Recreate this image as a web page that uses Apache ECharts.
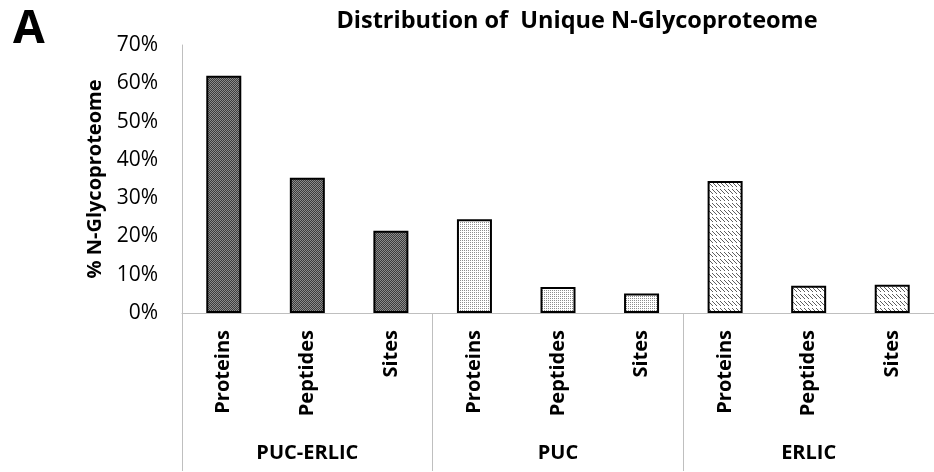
<!DOCTYPE html>
<html>
<head>
<meta charset="utf-8">
<script src="https://cdn.jsdelivr.net/npm/echarts@6/dist/echarts.min.js"></script>
<style>
html, body { margin: 0; padding: 0; background: #fff; }
#chart { width: 934px; height: 472px; }
</style>
</head>
<body>
<div id="chart"></div>
<script>
'use strict';

// data
var groups = ['PUC-ERLIC', 'PUC', 'ERLIC'];
var measures = ['Proteins', 'Peptides', 'Sites'];
var pucErlicValues = [62.0, 35.3, 21.5];
var pucValues = [24.5, 6.8, 5.1];
var erlicValues = [34.5, 7.1, 7.4];
var yTickValues = [0, 10, 20, 30, 40, 50, 60, 70];

// 填充图案
function makePattern(w, h, bg, fg, pixels) {
	var c = document.createElement('canvas');
	c.width = w;
	c.height = h;
	var ctx = c.getContext('2d');
	ctx.fillStyle = bg;
	ctx.fillRect(0, 0, w, h);
	ctx.fillStyle = fg;
	pixels.forEach(function (p) {
		ctx.fillRect(p[0], p[1], 1, 1);
	});
	return { image: c, repeat: 'repeat' };
}

var darkFill = makePattern(2, 2, '#3c3c3c', '#8c8c8c', [[0, 0], [1, 1]]);
var lightFill = makePattern(2, 2, '#ffffff', '#8e8e8e', [[0, 0]]);
var hatchFill = makePattern(4, 7, '#ffffff', '#5e5e5e', [[0, 0], [1, 1], [2, 2], [3, 3], [0, 4]]);

var groupFills = [darkFill, lightFill, hatchFill];
var groupValues = [pucErlicValues, pucValues, erlicValues];

var categories = [];
var barData = [];
groups.forEach(function (g, gi) {
	measures.forEach(function (m, mi) {
		categories.push(m);
		barData.push({
			value: groupValues[gi][mi],
			itemStyle: { color: groupFills[gi] }
		});
	});
});

var chart = echarts.init(document.getElementById('chart'));

chart.setOption({
	animation: false,
	textStyle: { fontFamily: 'Open Sans' },
	title: [{
		text: 'Distribution of  Unique N-Glycoproteome',
		left: 572,
		top: 4,
		textAlign: 'center',
		textStyle: { fontSize: 23.5, fontWeight: 'bold', color: '#000', fontFamily: 'Open Sans' }
	}, {
		text: 'A',
		left: 8,
		top: 2,
		textStyle: { fontSize: 46, fontWeight: 'bold', color: '#000', fontFamily: 'Open Sans' }
	}],
	grid: { left: 182, top: 45, width: 762, height: 268 },
	xAxis: [{
		type: 'category',
		data: categories,
		axisLine: { show: true, lineStyle: { color: '#bfbfbf', width: 1 } },
		axisTick: { show: false },
		axisLabel: {
			rotate: 90,
			interval: 0,
			margin: 17,
			color: '#000',
			fontSize: 20,
			fontWeight: 'bold',
			fontFamily: 'Open Sans'
		}
	}, {
		type: 'category',
		data: groups,
		position: 'bottom',
		axisLine: { show: false },
		axisTick: { show: true, length: 158, lineStyle: { color: '#bfbfbf', width: 1 } },
		axisLabel: {
			interval: 0,
			margin: 130,
			color: '#000',
			fontSize: 20,
			fontWeight: 'bold',
			fontFamily: 'Open Sans'
		}
	}],
	yAxis: {
		type: 'value',
		min: yTickValues[0],
		max: yTickValues[yTickValues.length - 1],
		interval: yTickValues[1] - yTickValues[0],
		name: '% N-Glycoproteome',
		nameLocation: 'middle',
		nameGap: 76,
		nameTextStyle: { fontSize: 20, fontWeight: 'bold', color: '#000', fontFamily: 'Open Sans' },
		axisLine: { show: true, lineStyle: { color: '#bfbfbf', width: 1 } },
		axisTick: { show: false },
		splitLine: { show: false },
		axisLabel: {
			margin: 24,
			color: '#000',
			fontSize: 21,
			fontFamily: 'Open Sans',
			formatter: function (v) { return v + '%'; }
		}
	},
	series: [{
		type: 'bar',
		xAxisIndex: 0,
		data: barData,
		barWidth: 35,
		itemStyle: { borderColor: '#000', borderWidth: 2 }
	}]
});
</script>
</body>
</html>
